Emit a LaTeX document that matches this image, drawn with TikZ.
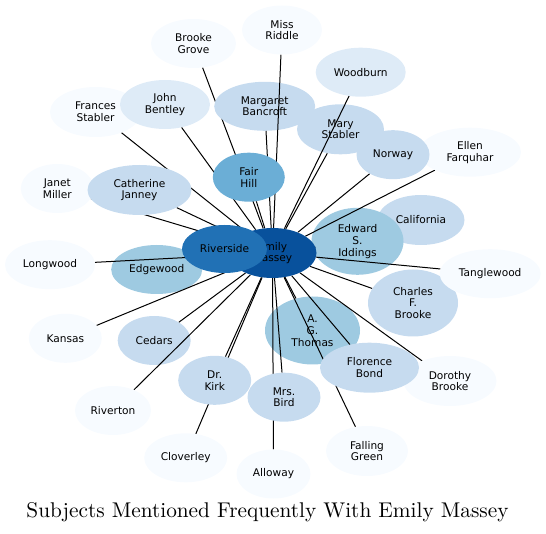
\documentclass[tikz,border=0pt]{standalone}
\usepackage{fontspec}
\usepackage{tikz}
\usetikzlibrary{shapes.geometric}
\newfontfamily\labelfont{DejaVu Sans}
\newfontfamily\titlefont{lmroman10-regular}[Extension=.otf]
\definecolor{toneA}{HTML}{F7FBFF}
\definecolor{toneB}{HTML}{DEEBF7}
\definecolor{toneC}{HTML}{C6DBEF}
\definecolor{toneD}{HTML}{9ECAE1}
\definecolor{toneE}{HTML}{6BAED6}
\definecolor{toneF}{HTML}{2171B5}
\definecolor{toneG}{HTML}{08519C}
\pgfdeclarelayer{back}
\pgfdeclarelayer{under}
\pgfdeclarelayer{links}
\pgfsetlayers{back,under,links,main}

\begin{document}
\begin{tikzpicture}[x=1pt, y=-1pt,
  subject/.style={ellipse, inner sep=0pt, align=center, minimum height=49pt,
    font={\labelfont\fontsize{10.6}{11.8}\selectfont}},
  link/.style={line width=1pt}]
\useasboundingbox (0, 0) rectangle (546, 534);

\begin{pgfonlayer}{back}
\node [subject, fill=toneC, minimum width=87pt, minimum height=50pt] (california) at (421, 220) {California};
\end{pgfonlayer}

\begin{pgfonlayer}{under}
\node [subject, fill=toneC, minimum width=101pt] (bancroft) at (264.7, 106.3) {Margaret\\Bancroft};
\node [subject, fill=toneC, minimum width=87pt, minimum height=50pt] (marystabler) at (340.5, 129.3) {Mary\\Stabler};
\node [subject, fill=toneD, minimum width=92pt, minimum height=67pt] (iddings) at (357.5, 241.3) {Edward\\S.\\Iddings};
\node [subject, fill=toneD, minimum width=95pt, minimum height=68pt] (thomas) at (312.5, 330.5) {A.\\G.\\Thomas};
\node [subject, fill=toneC, minimum width=73pt] (cedars) at (154.2, 340.5) {Cedars};
\node [subject, fill=toneD, minimum width=91pt] (edgewood) at (156.7, 269.5) {Edgewood};
\end{pgfonlayer}

\node [subject, fill=toneA, minimum width=85pt] (brookegrove) at (193.5, 43.5) {Brooke\\Grove};
\node [subject, fill=toneA, minimum width=80pt] (missriddle) at (282, 30) {Miss\\Riddle};
\node [subject, fill=toneB, minimum width=90pt] (woodburn) at (360.7, 72.2) {Woodburn};
\node [subject, fill=toneA, minimum width=91pt, minimum height=50pt] (frances) at (95.5, 112) {Frances\\Stabler};
\node [subject, fill=toneB, minimum width=90pt] (bentley) at (165, 104.5) {John\\Bentley};
\node [subject, fill=toneA, minimum width=102pt] (farquhar) at (470, 152.2) {Ellen\\Farquhar};
\node [subject, fill=toneC, minimum width=73pt] (norway) at (393, 154.7) {Norway};
\node [subject, fill=toneE, minimum width=72pt] (fairhill) at (248.8, 177.2) {Fair\\Hill};
\node [subject, fill=toneA, minimum width=73pt] (janet) at (57.3, 188.5) {Janet\\Miller};
\node [subject, fill=toneC, minimum width=104pt, minimum height=50pt] (janney) at (139.5, 190) {Catherine\\Janney};
\node [subject, fill=toneA, minimum width=90pt] (longwood) at (50, 264.7) {Longwood};
\node [subject, fill=toneC, minimum width=90pt, minimum height=67pt] (charles) at (413, 303) {Charles\\F.\\Brooke};
\node [subject, fill=toneA, minimum width=101pt] (tanglewood) at (490.2, 273.7) {Tanglewood};
\node [subject, fill=toneA, minimum width=73pt] (kansas) at (65.3, 338.3) {Kansas};
\node [subject, fill=toneA, minimum width=93pt, minimum height=50pt] (dorothy) at (450, 381) {Dorothy\\Brooke};
\node [subject, fill=toneC, minimum width=99pt, minimum height=50pt] (florence) at (369.5, 367.7) {Florence\\Bond};
\node [subject, fill=toneC, minimum width=73pt] (kirk) at (214.7, 380.3) {Dr.\\Kirk};
\node [subject, fill=toneC, minimum width=73pt] (bird) at (284, 397.2) {Mrs.\\Bird};
\node [subject, fill=toneA, minimum width=76pt] (riverton) at (113, 410.5) {Riverton};
\node [subject, fill=toneA, minimum width=82pt, minimum height=50pt] (falling) at (367, 451) {Falling\\Green};
\node [subject, fill=toneA, minimum width=83pt] (cloverley) at (185.7, 457.8) {Cloverley};
\node [subject, fill=toneA, minimum width=74pt] (alloway) at (273.5, 474) {Alloway};
\node [subject, fill=toneG, minimum width=88pt, minimum height=50pt] (emily) at (272.5, 253) {Emily\\Massey};
\node [subject, fill=toneF, minimum width=85pt, minimum height=48pt] (riverside) at (224.5, 249) {Riverside};

\node (title) at (267.5, 512) {\titlefont\fontsize{21.3}{25}\selectfont Subjects Mentioned Frequently With Emily Massey};

\begin{pgfonlayer}{back}
\draw [link] (emily) -- (brookegrove);
\draw [link] (emily) -- (california);
\end{pgfonlayer}

\begin{pgfonlayer}{links}
\draw [link] (emily) -- (missriddle);
\draw [link] (emily) -- (woodburn);
\draw [link] (emily) -- (bancroft);
\draw [link] (emily) -- (marystabler);
\draw [link] (emily) -- (frances);
\draw [link] (emily) -- (bentley);
\draw [link] (emily) -- (farquhar);
\draw [link] (emily) -- (norway);
\draw [link] (emily) -- (fairhill);
\draw [link] (emily) -- (janet);
\draw [link] (emily) -- (janney);
\draw [link] (emily) -- (riverside);
\draw [link] (emily) -- (iddings);
\draw [link] (emily) -- (longwood);
\draw [link] (emily) -- (edgewood);
\draw [link] (emily) -- (tanglewood);
\draw [link] (emily) -- (charles);
\draw [link] (emily) -- (kansas);
\draw [link] (emily) -- (cedars);
\draw [link] (emily) -- (thomas);
\draw [link] (emily) -- (florence);
\draw [link] (emily) -- (dorothy);
\draw [link] (emily) -- (kirk);
\draw [link] (emily) -- (bird);
\draw [link] (emily) -- (riverton);
\draw [link] (emily) -- (falling);
\draw [link] (emily) -- (cloverley);
\draw [link] (emily) -- (alloway);
\end{pgfonlayer}
\end{tikzpicture}
\end{document}
